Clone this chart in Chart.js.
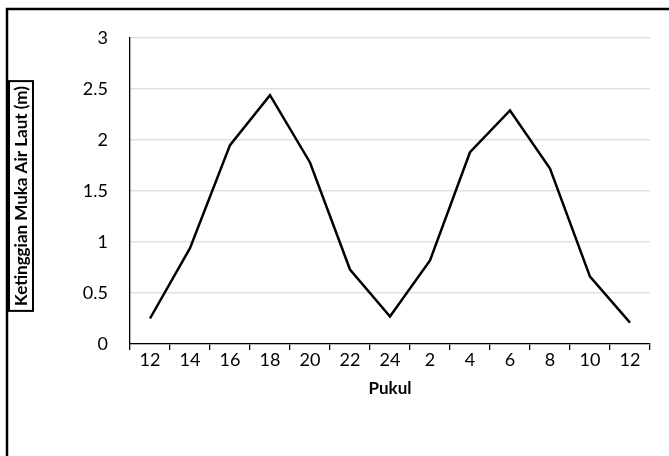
<!DOCTYPE html>
<html>
<head>
<meta charset="utf-8">
<script src="https://cdn.jsdelivr.net/npm/chart.js@4.4.0/dist/chart.umd.min.js"></script>
<style>
  html, body { margin: 0; padding: 0; background: #fff; }
  #wrap { width: 669px; height: 456px; position: relative; }
</style>
</head>
<body>
<div id="wrap"><canvas id="tideChart" width="669" height="456"></canvas></div>
<script>
// jam pengamatan (sumbu x)
const hours = ['12', '14', '16', '18', '20', '22', '24', '2', '4', '6', '8', '10', '12'];
// ketinggian muka air laut (m)
const waterLevel = [0.25, 0.94, 1.95, 2.44, 1.78, 0.73, 0.27, 0.82, 1.88, 2.29, 1.72, 0.66, 0.21];
const yTicks = [0, 0.5, 1, 1.5, 2, 2.5, 3];
const yTitle = 'Ketinggian Muka Air Laut (m)';
const xTitle = 'Pukul';

const FONT = 'Lato, "Open Sans", sans-serif';

// outer frame + boxed y title
const framePlugin = {
    id: 'frame',
    afterDraw(chart) {
        const ctx = chart.ctx;
        ctx.save();
        ctx.strokeStyle = '#000';
        ctx.lineWidth = 2.5;
        ctx.strokeRect(7, 9, 720, 520);

        ctx.font = 'bold 17px ' + FONT;
        const w = ctx.measureText(yTitle).width;
        const cx = 21, cy = 196;
        ctx.lineWidth = 2;
        ctx.strokeRect(cx - 12, cy - w / 2 - 5, 24, w + 10);
        ctx.translate(cx, cy);
        ctx.rotate(-Math.PI / 2);
        ctx.fillStyle = '#000';
        ctx.textAlign = 'center';
        ctx.textBaseline = 'middle';
        ctx.fillText(yTitle, 0, 1);
        ctx.restore();
    }
};

new Chart(document.getElementById('tideChart'), {
    type: 'line',
    data: {
        labels: hours,
        datasets: [{
            data: waterLevel,
            borderColor: '#000',
            borderWidth: 2.5,
            pointRadius: 0,
            tension: 0,
            fill: false
        }]
    },
    options: {
        responsive: false,
        animation: false,
        layout: { padding: { top: 38, right: 19, left: 0, bottom: 0 } },
        plugins: { legend: { display: false }, tooltip: { enabled: false } },
        scales: {
            x: {
                offset: true,
                grid: { offset: true, drawOnChartArea: false, drawTicks: true, tickLength: 6, color: '#000', lineWidth: 1.3 },
                border: { color: '#000', width: 1.3 },
                ticks: { color: '#000', font: { family: FONT, size: 18 }, padding: -1, maxRotation: 0, autoSkip: false },
                title: { display: true, text: xTitle, color: '#000', font: { family: FONT, size: 17, weight: 'bold' }, padding: { top: 0, bottom: 57 } },
                afterFit(scale) { scale.height = 112; }
            },
            y: {
                min: 0,
                max: 3,
                afterBuildTicks(scale) { scale.ticks = yTicks.map(v => ({ value: v })); },
                grid: { color: '#dde2e8', lineWidth: 1.5, drawTicks: false },
                border: { color: '#000', width: 1.3 },
                ticks: { color: '#000', font: { family: FONT, size: 18 }, padding: 22, callback: v => String(v) },
                afterFit(scale) { scale.width = 130; }
            }
        }
    },
    plugins: [framePlugin]
});
</script>
</body>
</html>
